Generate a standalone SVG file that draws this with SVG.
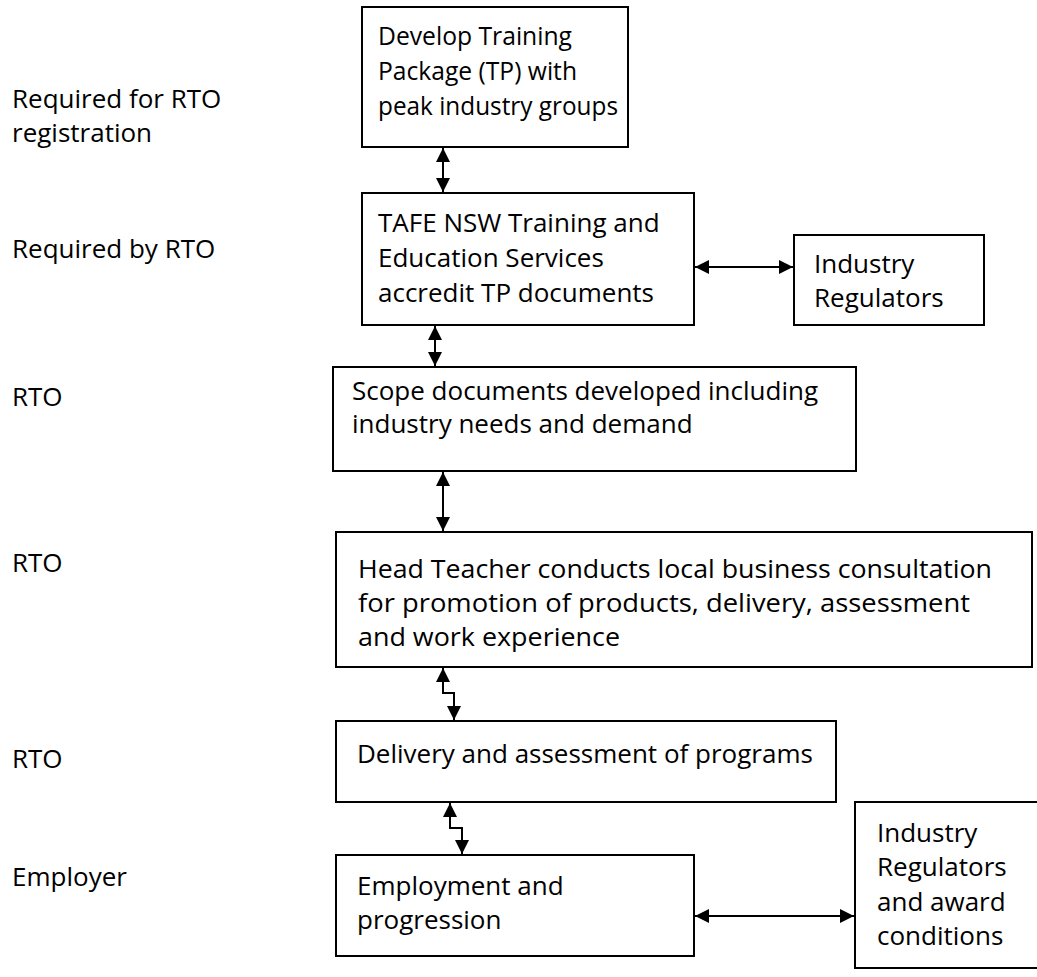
<svg xmlns="http://www.w3.org/2000/svg" width="1037" height="977" viewBox="0 0 1037 977">
  <defs>
    <style>
      text { font-family: "Open Sans", "Liberation Sans", sans-serif; font-size: 26px; fill: #000; }
      .box { fill: #fff; stroke: #000; stroke-width: 2; }
      .link { fill: none; stroke: #000; stroke-width: 2; }
    </style>
    <marker id="head" viewBox="0 0 14 14" refX="14" refY="7" markerWidth="14" markerHeight="14" markerUnits="userSpaceOnUse" orient="auto-start-reverse">
      <path d="M0,0 L14,7 L0,14 Z" fill="#000"/>
    </marker>
  </defs>
  <rect width="1037" height="977" fill="#fff"/>

  <!-- row labels -->
  <g id="labels">
    <text x="12" y="108">Required for RTO</text>
    <text x="12" y="142">registration</text>
    <text x="12" y="258">Required by RTO</text>
    <text x="12" y="406">RTO</text>
    <text x="12" y="572">RTO</text>
    <text x="12" y="768">RTO</text>
    <text x="12" y="886">Employer</text>
  </g>

  <g id="develop-tp">
    <rect class="box" x="362" y="7" width="266" height="140"/>
    <text x="378" y="45" textLength="194" lengthAdjust="spacingAndGlyphs">Develop Training</text>
    <text x="378" y="80" textLength="199" lengthAdjust="spacingAndGlyphs">Package (TP) with</text>
    <text x="378" y="115" textLength="240" lengthAdjust="spacingAndGlyphs">peak industry groups</text>
  </g>

  <g id="tafe-accredit">
    <rect class="box" x="362" y="193" width="332" height="132"/>
    <text x="378" y="232">TAFE NSW Training and</text>
    <text x="378" y="267">Education Services</text>
    <text x="378" y="302">accredit TP documents</text>
  </g>

  <g id="industry-regulators">
    <rect class="box" x="794" y="235" width="190" height="90"/>
    <text x="814" y="273">Industry</text>
    <text x="814" y="307">Regulators</text>
  </g>

  <g id="scope-docs">
    <rect class="box" x="333" y="367" width="523" height="104"/>
    <text x="352" y="400">Scope documents developed including</text>
    <text x="352" y="433">industry needs and demand</text>
  </g>

  <g id="head-teacher">
    <rect class="box" x="336" y="532" width="696" height="135"/>
    <text x="358" y="578" textLength="634" lengthAdjust="spacingAndGlyphs">Head Teacher conducts local business consultation</text>
    <text x="358" y="612" textLength="612" lengthAdjust="spacingAndGlyphs">for promotion of products, delivery, assessment</text>
    <text x="358" y="646" textLength="262" lengthAdjust="spacingAndGlyphs">and work experience</text>
  </g>

  <g id="delivery">
    <rect class="box" x="336" y="721" width="500" height="81"/>
    <text x="357" y="763">Delivery and assessment of programs</text>
  </g>

  <g id="employment">
    <rect class="box" x="336" y="855" width="358" height="101"/>
    <text x="357" y="895">Employment and</text>
    <text x="357" y="929">progression</text>
  </g>

  <g id="regulators-award">
    <rect class="box" x="855" y="802" width="200" height="166"/>
    <text x="877" y="842">Industry</text>
    <text x="877" y="876">Regulators</text>
    <text x="877" y="911">and award</text>
    <text x="877" y="945">conditions</text>
  </g>

  <!-- page number at the lower edge -->
  <text x="1024" y="996">7</text>

  <g id="connectors">
    <path class="link" d="M443,148 V192" marker-start="url(#head)" marker-end="url(#head)"/>
    <path class="link" d="M695,267 H793" marker-start="url(#head)" marker-end="url(#head)"/>
    <path class="link" d="M435,326 V366" marker-start="url(#head)" marker-end="url(#head)"/>
    <path class="link" d="M443,472 V531" marker-start="url(#head)" marker-end="url(#head)"/>
    <path class="link" d="M443,668 V693 H454 V720" marker-start="url(#head)" marker-end="url(#head)"/>
    <path class="link" d="M450,803 V828 H462 V854" marker-start="url(#head)" marker-end="url(#head)"/>
    <path class="link" d="M695,916 H854" marker-start="url(#head)" marker-end="url(#head)"/>
  </g>
</svg>
